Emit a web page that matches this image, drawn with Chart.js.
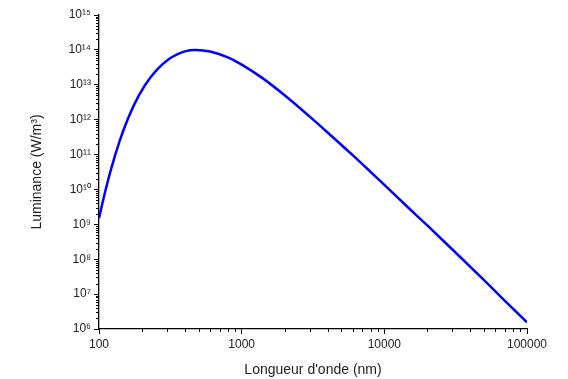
<!DOCTYPE html>
<html>
<head>
<meta charset="utf-8">
<script src="https://cdn.jsdelivr.net/npm/chart.js@4.4.1/dist/chart.umd.min.js"></script>
<style>
  html, body { margin: 0; padding: 0; background: #fff; }
  #wrap { width: 568px; height: 379px; }
</style>
</head>
<body>
<div id="wrap"><canvas id="chartCanvas" width="568" height="379"></canvas></div>
<script>
// wavelength (nm) and spectral luminance (W/m^3)
var wavelengths = [100, 110, 120, 140, 160, 190, 230, 300, 400, 480, 600, 800, 1000, 1400, 2000,
  3000, 4000, 6000, 8000, 10000, 15000, 20000, 30000, 50000, 70000, 100000];
var luminance = [1.5e9, 8e9, 3.2e10, 2.55e11, 1.1e12, 4.9e12, 1.65e13, 5.0e13, 9.1e13, 1.0e14, 9.0e13, 6.1e13, 3.8e13, 1.55e13, 5.0e12,
  1.22e12, 4.3e11, 9.6e10, 3.2e10, 1.35e10, 2.8e9, 9.3e8, 1.9e8, 2.5e7, 6.4e6, 1.55e6];

var xTickLabels = [100, 1000, 10000, 100000];
var yDecades = [6, 7, 8, 9, 10, 11, 12, 13, 14, 15];

var FONT = "'Liberation Sans', Arial, sans-serif";
var SUP = {'0':'\u2070','1':'\u00b9','2':'\u00b2','3':'\u00b3','4':'\u2074','5':'\u2075','6':'\u2076','7':'\u2077','8':'\u2078','9':'\u2079'};

function supers(n){
  return String(n).split('').map(function(c){ return SUP[c]; }).join('');
}

// 1..9 x 10^e ticks between two decades
function logTicks(e0, e1){
  var out = [];
  for (var e = e0; e <= e1; e++) {
    for (var m = 1; m <= 9; m++) {
      if (e === e1 && m > 1) break;
      out.push({value: m * Math.pow(10, e), major: m === 1});
    }
  }
  return out;
}

function isDecade(v){
  var l = Math.log10(v);
  return Math.abs(l - Math.round(l)) < 1e-9;
}

// short minor tick marks, outside the axes
var minorTicks = {
  id: 'minorTicks',
  afterDraw: function(chart){
    var ctx = chart.ctx, area = chart.chartArea;
    var xs = chart.scales.x, ys = chart.scales.y;
    ctx.save();
    ctx.strokeStyle = '#000';
    ctx.lineWidth = 1;
    ctx.beginPath();
    xs.ticks.forEach(function(t){
      if (isDecade(t.value)) return;
      var px = Math.round(xs.getPixelForValue(t.value)) + 0.5;
      ctx.moveTo(px, area.bottom);
      ctx.lineTo(px, area.bottom + 3);
    });
    ys.ticks.forEach(function(t){
      if (isDecade(t.value)) return;
      var py = Math.round(ys.getPixelForValue(t.value)) + 0.5;
      ctx.moveTo(area.left, py);
      ctx.lineTo(area.left - 3, py);
    });
    ctx.stroke();
    ctx.restore();
  }
};

var points = wavelengths.map(function(w, i){ return {x: w, y: luminance[i]}; });

var ctx = document.getElementById('chartCanvas').getContext('2d');
var chart = new Chart(ctx, {
  type: 'line',
  data: {
    datasets: [{
      data: points,
      borderColor: '#0000ff',
      borderWidth: 2.5,
      pointRadius: 0,
      fill: false,
      cubicInterpolationMode: 'monotone'
    }]
  },
  options: {
    responsive: false,
    animation: false,
    layout: { padding: { top: 15, right: 41, left: 0, bottom: 0 } },
    plugins: { legend: { display: false }, tooltip: { enabled: false } },
    scales: {
      x: {
        type: 'logarithmic',
        min: 100,
        max: 100000,
        afterBuildTicks: function(scale){ scale.ticks = logTicks(2, 5); },
        afterFit: function(scale){ scale.height = 50; },
        border: { display: true, color: '#000', width: 1.3 },
        grid: {
          drawOnChartArea: false,
          drawTicks: true,
          tickLength: 5,
          tickWidth: 1,
          tickColor: function(c){ return c.tick && isDecade(c.tick.value) ? '#000' : 'rgba(0,0,0,0)'; }
        },
        ticks: {
          autoSkip: false,
          maxRotation: 0,
          padding: 3,
          color: '#222',
          font: { family: FONT, size: 12 },
          callback: function(v){ return xTickLabels.indexOf(v) >= 0 ? String(v) : ''; }
        },
        title: {
          display: true,
          text: "Longueur d'onde (nm)",
          color: '#222',
          font: { family: FONT, size: 14 },
          padding: { top: 0, bottom: 0 }
        }
      },
      y: {
        type: 'logarithmic',
        min: 1e6,
        max: 1e15,
        afterBuildTicks: function(scale){ scale.ticks = logTicks(6, 15); },
        afterFit: function(scale){ scale.width = 99; },
        border: { display: true, color: '#000', width: 1.3 },
        grid: {
          drawOnChartArea: false,
          drawTicks: true,
          tickLength: 5,
          tickWidth: 1,
          tickColor: function(c){ return c.tick && isDecade(c.tick.value) ? '#000' : 'rgba(0,0,0,0)'; }
        },
        ticks: {
          autoSkip: false,
          padding: 3,
          color: '#222',
          font: { family: FONT, size: 12 },
          callback: function(v){
            var e = Math.round(Math.log10(v));
            return isDecade(v) && yDecades.indexOf(e) >= 0 ? '10' + supers(e) : '';
          }
        },
        title: {
          display: true,
          text: 'Luminance (W/m\u00b3)',
          color: '#222',
          font: { family: FONT, size: 14 },
          padding: { top: 29, bottom: 0 }
        }
      }
    }
  },
  plugins: [minorTicks]
});
</script>
</body>
</html>
